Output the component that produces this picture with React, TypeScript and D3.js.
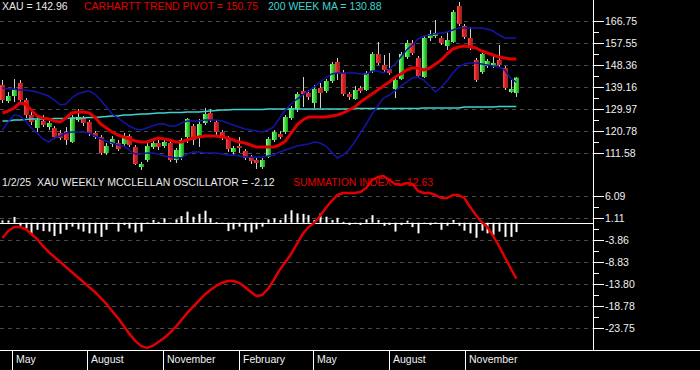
import React from "react";
import * as d3 from "d3";

// ---------- DATA (weekly, 2023-04-20 .. 2025-01-02) ----------
const firstWeek = "2023-04-20";
const lastWeek = "2025-01-02";

const open = [139.87, 133.18, 135.27, 140.71, 133.60, 127.33, 121.90, 124.82, 122.31, 121.90,
  119.81, 120.22, 116.04, 125.24, 126.08, 124.40, 119.81, 118.13, 111.45, 115.21,
  115.63, 115.21, 118.55, 113.95, 105.59, 108.52, 113.95, 115.63, 114.37, 115.63,
  108.52, 109.77, 118.13, 122.73, 117.72, 123.99, 128.17, 124.40, 120.22, 117.72,
  111.86, 114.37, 112.28, 109.77, 108.52, 105.59, 109.77, 116.88, 119.39, 120.22,
  126.08, 129.84, 137.36, 136.53, 132.35, 138.62, 137.36, 141.54, 149.48, 144.89,
  136.11, 134.02, 138.62, 137.78, 145.72, 152.83, 148.23, 146.56, 138.20, 142.38,
  151.57, 157.43, 151.16, 143.21, 159.52, 160.35, 159.52, 156.17, 157.84, 172.89,
  164.53, 159.52, 150.32, 145.30, 147.81, 147.81, 150.32, 146.98, 136.94, 136.53];

const close = [133.60, 135.27, 137.78, 133.60, 127.33, 124.40, 125.24, 123.15, 123.99, 118.13,
  117.72, 116.88, 126.08, 126.49, 123.99, 119.81, 118.13, 111.45, 114.37, 117.30,
  113.12, 118.55, 114.79, 106.85, 106.85, 114.37, 115.63, 113.95, 116.04, 108.52,
  112.70, 116.88, 125.66, 116.88, 123.57, 127.75, 125.24, 120.22, 117.72, 113.12,
  113.54, 113.54, 109.36, 108.10, 107.27, 108.52, 117.30, 120.22, 118.13, 126.49,
  130.26, 136.11, 136.11, 134.85, 138.20, 136.53, 141.54, 148.65, 144.47, 136.11,
  134.85, 137.78, 137.36, 144.89, 152.83, 149.07, 146.14, 144.89, 141.96, 152.83,
  157.43, 153.25, 143.63, 159.52, 161.19, 161.61, 157.43, 158.68, 170.38, 165.37,
  159.93, 155.75, 141.96, 152.83, 149.90, 149.07, 148.23, 138.62, 138.20, 142.96];

const high = [141.96, 136.94, 142.38, 141.96, 134.44, 129.42, 126.49, 127.33, 125.24, 122.73,
  121.06, 122.31, 127.33, 129.84, 126.91, 125.24, 120.64, 118.97, 115.63, 118.55,
  116.88, 119.81, 119.39, 114.79, 107.68, 115.63, 117.72, 116.88, 117.72, 116.46,
  113.54, 117.72, 126.08, 123.57, 125.66, 130.26, 129.84, 125.24, 121.06, 118.55,
  114.37, 118.13, 113.12, 110.61, 109.36, 109.36, 118.13, 121.06, 120.64, 127.33,
  131.09, 136.94, 143.21, 137.78, 139.87, 140.71, 142.38, 149.48, 151.16, 146.14,
  136.94, 139.45, 139.45, 145.72, 153.66, 157.84, 152.41, 153.25, 143.21, 153.66,
  158.68, 158.68, 151.99, 160.35, 162.86, 167.04, 160.35, 162.02, 171.22, 174.56,
  165.37, 164.11, 151.16, 153.66, 150.74, 152.41, 156.59, 147.81, 141.96, 143.21];

const low = [132.35, 132.35, 132.76, 131.93, 126.08, 123.15, 120.22, 122.31, 121.06, 117.30,
  116.88, 114.79, 115.63, 124.40, 122.73, 118.55, 117.30, 110.61, 110.61, 113.95,
  112.28, 114.37, 113.95, 106.43, 104.34, 107.68, 113.12, 112.70, 113.54, 107.68,
  107.27, 108.52, 115.63, 114.79, 113.95, 123.15, 124.40, 118.97, 116.88, 111.86,
  110.61, 111.45, 108.52, 106.85, 104.76, 104.76, 109.36, 116.04, 117.30, 119.39,
  125.24, 128.58, 130.67, 133.60, 130.26, 130.26, 136.53, 140.71, 141.96, 135.27,
  133.60, 133.60, 136.53, 137.36, 144.89, 148.23, 145.30, 144.05, 134.44, 141.96,
  150.74, 152.41, 142.80, 142.80, 158.26, 159.52, 156.59, 154.50, 157.43, 164.53,
  159.10, 154.50, 141.12, 144.47, 146.98, 146.98, 147.39, 137.78, 136.53, 134.85];

const trendPivot = [128.17, 129.00, 130.26, 132.35, 131.93, 129.42, 126.91, 126.08, 125.66, 124.82,
  124.40, 126.08, 128.17, 128.58, 128.58, 128.17, 126.49, 123.57, 121.90, 120.22,
  118.97, 118.13, 117.30, 116.46, 116.04, 116.04, 116.88, 117.72, 117.30, 116.88,
  116.04, 116.04, 116.88, 117.72, 118.13, 118.55, 118.55, 118.55, 118.13, 117.72,
  116.88, 116.04, 115.63, 114.79, 113.95, 113.95, 113.95, 113.95, 114.79, 116.46,
  119.81, 123.15, 125.24, 126.49, 126.49, 126.49, 126.49, 126.91, 127.33, 128.17,
  129.42, 130.67, 132.76, 134.44, 136.11, 137.78, 139.45, 141.12, 143.21, 144.47,
  146.14, 146.98, 146.98, 146.14, 146.98, 148.65, 150.32, 152.83, 154.92, 155.75,
  156.17, 155.75, 155.34, 154.08, 153.25, 152.41, 151.57, 151.16, 150.74, 150.75];

const upperBand = [138.62, 138.20, 138.20, 137.78, 137.78, 137.36, 136.94, 136.11, 135.27, 133.60,
  131.51, 131.93, 134.44, 136.11, 136.94, 137.36, 136.11, 133.60, 130.67, 127.75,
  126.08, 124.40, 122.73, 121.48, 121.06, 121.90, 122.73, 123.57, 123.57, 122.73,
  122.73, 123.99, 124.82, 124.82, 124.82, 125.24, 125.24, 125.24, 124.82, 123.99,
  123.15, 122.31, 121.48, 121.06, 120.64, 120.22, 121.06, 122.31, 126.08, 129.42,
  131.93, 134.02, 135.69, 137.36, 139.03, 141.12, 142.80, 144.47, 144.89, 144.89,
  144.89, 144.89, 144.47, 144.47, 145.72, 145.72, 144.89, 146.56, 148.65, 151.57,
  154.50, 156.59, 159.10, 160.35, 160.77, 161.19, 161.61, 162.02, 162.86, 163.70,
  163.70, 163.70, 163.70, 163.70, 163.28, 162.44, 160.77, 159.52, 159.52, 159.52];

const lowerBand = [121.06, 124.40, 127.33, 126.91, 124.82, 121.90, 119.81, 117.30, 116.04, 117.72,
  118.55, 119.81, 120.22, 120.22, 120.22, 119.81, 118.55, 117.30, 116.46, 115.63,
  114.79, 114.37, 112.70, 111.03, 111.03, 111.45, 111.45, 111.03, 110.19, 109.77,
  109.36, 109.36, 111.03, 111.86, 111.86, 111.45, 111.45, 111.45, 111.03, 110.61,
  110.61, 110.19, 109.77, 109.77, 109.77, 109.77, 110.19, 110.61, 111.86, 112.70,
  113.54, 114.37, 114.79, 115.21, 116.04, 115.63, 114.37, 111.86, 109.36, 110.61,
  112.70, 116.04, 119.81, 123.57, 127.75, 131.09, 134.44, 135.69, 137.36, 139.45,
  141.12, 142.80, 143.21, 141.96, 139.45, 136.94, 139.03, 141.54, 144.89, 147.39,
  148.65, 149.07, 149.07, 148.65, 148.23, 147.81, 147.39, 146.14, 142.80, 141.12];

const ma200 = [124.82, 124.82, 125.24, 125.24, 125.45, 125.66, 125.66, 125.66, 125.66, 125.87,
  125.87, 125.87, 126.08, 126.08, 126.08, 126.29, 126.29, 126.49, 126.70, 126.91,
  126.91, 127.33, 127.33, 127.54, 127.75, 127.75, 127.96, 128.17, 128.17, 128.38,
  128.38, 128.38, 128.58, 128.58, 128.58, 128.79, 129.00, 129.21, 129.42, 129.42,
  129.63, 129.63, 129.63, 129.63, 129.63, 129.63, 129.84, 129.84, 129.84, 129.84,
  129.84, 129.84, 129.84, 129.84, 129.84, 129.84, 129.84, 129.84, 129.84, 129.84,
  129.84, 130.05, 130.05, 130.05, 130.05, 130.05, 130.05, 130.05, 130.05, 130.05,
  130.05, 130.05, 130.05, 130.26, 130.26, 130.26, 130.26, 130.26, 130.26, 130.26,
  130.67, 130.67, 130.67, 130.67, 130.67, 130.67, 130.88, 130.88, 130.88, 130.88];

const oscillator = [0.5, 0.5, 1.3, -0.7, -1.3, -2.5, -1.6, -1.9, -2.0, -3.0,
  -2.5, -1.6, -0.9, -1.5, -2.0, -2.4, -2.4, -3.2, -1.6, -0.3,
  -2.0, -0.5, -1.3, -2.2, -2.0, 0.05, 0.6, 0.2, 1.0, -0.1,
  0.75, 1.5, 2.5, 1.35, 2.0, 2.7, 1.0, 0.1, -0.1, -1.9,
  -1.5, -0.9, -2.0, -2.2, -1.5, -0.9, 0.75, 1.0, 0.6, 1.9,
  2.8, 2.1, 2.0, 1.7, 0.6, 2.1, 1.35, 0.6, 1.1, 0.2,
  -0.5, -0.3, -0.5, 0.75, 1.7, 0.6, -0.7, -0.5, -2.0, -0.5,
  0.45, -1.0, -2.4, -0.2, -0.5, 0.05, -1.6, -0.7, 0.6, -0.7,
  -1.8, -2.4, -3.4, -1.8, -2.4, -2.8, -2.0, -3.2, -3.2, -2.12];

const summation = [-3.45, -1.87, -0.97, -0.97, -1.42, -2.55, -3.67, -5.25, -6.60, -7.73,
  -8.85, -9.98, -11.11, -12.24, -13.36, -14.49, -15.62, -16.97, -18.32, -19.90,
  -21.48, -23.28, -25.08, -26.66, -27.79, -28.24, -27.79, -26.89, -25.99, -24.86,
  -23.51, -21.93, -20.35, -19.00, -17.65, -16.29, -15.17, -14.27, -13.59, -13.14,
  -13.14, -13.59, -14.49, -15.62, -16.52, -16.29, -14.94, -12.91, -10.66, -8.85,
  -7.05, -4.80, -2.55, -0.97, -0.07, 1.51, 3.31, 4.89, 6.24, 6.69,
  6.69, 6.69, 6.92, 7.82, 9.63, 10.30, 10.53, 9.63, 8.72, 8.50,
  8.95, 8.72, 7.14, 6.69, 6.69, 6.24, 5.57, 5.57, 6.24, 6.24,
  5.57, 3.54, 1.74, 0.16, -0.97, -3.00, -5.25, -7.73, -10.21, -12.63];

const priceTicks = [166.75, 157.55, 148.36, 139.16, 129.97, 120.78, 111.58];
const oscTicks = [6.09, 1.11, -3.86, -8.83, -13.80, -18.78, -23.75];
const monthTicks = ["2023-05-01", "2023-08-01", "2023-11-01", "2024-02-01", "2024-05-01", "2024-08-01", "2024-11-01"];

// ---------- LAYOUT ----------
const W = 700;
const H = 370;
const AXIS_X = 593;
const FONT = "'Liberation Sans', Arial, Helvetica, sans-serif";
const RED = "#e00000";
const CYAN = "#3fd3d0";
const BLUE = "#1414a8";

const parse = d3.timeParse("%Y-%m-%d");

export default function App() {
  const dates = d3.timeThursday.range(parse(firstWeek)!, d3.timeDay.offset(parse(lastWeek)!, 1));
  const n = dates.length;

  const x = d3.scaleTime()
    .domain([parse("2023-04-17")!, parse("2025-04-05")!])
    .range([0, AXIS_X]);
  const yP = d3.scaleLinear().domain([111.58, 166.75]).range([152.7, 20.7]);
  const yO = d3.scaleLinear().domain([-23.75, 6.09]).range([328, 195.7]);

  const px = (i: number) => x(dates[i]);
  const lineP = d3.line<number>().x((_, i) => px(i)).y((v) => yP(v));
  const lineO = d3.line<number>().x((_, i) => px(i)).y((v) => yO(v));

  const priceMinor = d3.pairs(priceTicks).map(([a, b]) => (a + b) / 2);
  const oscMinor = d3.pairs(oscTicks).map(([a, b]) => (a + b) / 2);
  const monthFmt = d3.timeFormat("%B");
  const dateFmt = d3.timeFormat("%-m/%-d/%y");

  const bodyW = 4;
  const last = n - 1;
  const zeroY = Math.round(yO(0)) + 0.5;

  const textProps = { fontFamily: FONT, fontSize: 10.5, style: { whiteSpace: "pre" as const } };

  return (
    <div style={{ position: "absolute", left: 0, top: 0, width: W, height: H }}>
      <svg width={W} height={H} viewBox={`0 0 ${W} ${H}`} style={{ display: "block", background: "#000" }}>
        <defs>
          <linearGradient id="gUp" x1="0" x2="1" y1="0" y2="0">
            <stop offset="0" stopColor="#a8ffa8" />
            <stop offset="0.4" stopColor="#3fe03f" />
            <stop offset="1" stopColor="#139a13" />
          </linearGradient>
          <linearGradient id="gDn" x1="0" x2="1" y1="0" y2="0">
            <stop offset="0" stopColor="#ff5050" />
            <stop offset="0.45" stopColor="#dc1c1c" />
            <stop offset="1" stopColor="#8a2a2a" />
          </linearGradient>
        </defs>
        <rect x={0} y={0} width={W} height={H} fill="#000" />

        {/* grid lines */}
        {priceTicks.map((t) => (
          <line key={"gp" + t} x1={0} x2={AXIS_X} y1={Math.round(yP(t)) + 0.5} y2={Math.round(yP(t)) + 0.5}
            stroke="#4a4a4a" strokeDasharray="4,4" />
        ))}
        {oscTicks.map((t) => (
          <line key={"go" + t} x1={0} x2={AXIS_X} y1={Math.round(yO(t)) + 0.5} y2={Math.round(yO(t)) + 0.5}
            stroke="#4a4a4a" strokeDasharray="4,4" />
        ))}

        {/* header texts */}
        <text x={2} y={10} fill="#e8e8e8" {...textProps}>{`XAU = ${close[last].toFixed(2)}`}</text>
        <text x={84} y={10} fill={RED} {...textProps}>{`CARHARTT TREND PIVOT = ${trendPivot[last].toFixed(2)}`}</text>
        <text x={268} y={10} fill={CYAN} {...textProps}>{`200 WEEK MA = ${ma200[last].toFixed(2)}`}</text>

        {/* candles */}
        {dates.map((d, i) => {
          const cx = Math.round(px(i));
          const up = close[i] >= open[i];
          const top = yP(Math.max(open[i], close[i]));
          const bot = yP(Math.min(open[i], close[i]));
          return (
            <g key={"c" + i}>
              <line x1={cx + 0.5} x2={cx + 0.5} y1={yP(high[i])} y2={yP(low[i])} stroke="#d0d0d0" strokeWidth={1} />
              <rect x={cx - bodyW / 2} y={top} width={bodyW + 1} height={Math.max(1.5, bot - top)}
                fill={up ? "url(#gUp)" : "url(#gDn)"} />
            </g>
          );
        })}

        {/* overlays */}
        <path d={lineP(ma200) || ""} fill="none" stroke={CYAN} strokeWidth={1.5} />
        <path d={lineP(upperBand) || ""} fill="none" stroke={BLUE} strokeWidth={1.5} />
        <path d={lineP(lowerBand) || ""} fill="none" stroke={BLUE} strokeWidth={1.5} />
        <path d={lineP(trendPivot) || ""} fill="none" stroke={RED} strokeWidth={3} strokeLinejoin="round" />

        {/* oscillator pane */}
        <text x={2} y={185.5} fill="#e8e8e8" {...textProps}>
          {`${dateFmt(dates[last])}  XAU WEEKLY MCCLELLAN OSCILLATOR = ${oscillator[last].toFixed(2)}`}
        </text>
        <text x={293} y={185.5} fill={RED} {...textProps}>{`SUMMATION INDEX = ${summation[last].toFixed(2)}`}</text>

        {oscillator.map((v, i) => {
          const cx = Math.round(px(i));
          const y0 = yO(0);
          const y1 = yO(v);
          return (
            <rect key={"o" + i} x={cx - 0.5} y={Math.min(y0, y1)} width={2} height={Math.max(1, Math.abs(y1 - y0))} fill="#ffffff" />
          );
        })}
        <line x1={0} x2={AXIS_X} y1={zeroY} y2={zeroY} stroke="#ffffff" strokeWidth={1} />
        <path d={lineO(summation) || ""} fill="none" stroke={RED} strokeWidth={2.5} strokeLinejoin="round" />

        {/* right axis */}
        <line x1={AXIS_X + 0.5} x2={AXIS_X + 0.5} y1={0} y2={350} stroke="#fff" />
        {priceTicks.map((t) => {
          const y = Math.round(yP(t)) + 0.5;
          return (
            <g key={"tp" + t}>
              <line x1={AXIS_X} x2={AXIS_X + 11} y1={y} y2={y} stroke="#fff" />
              <text x={AXIS_X + 12} y={y} dy="0.35em" fill="#f0f0f0" {...textProps}>{t.toFixed(2)}</text>
            </g>
          );
        })}
        {priceMinor.map((t) => {
          const y = Math.round(yP(t)) + 0.5;
          return <line key={"mp" + t} x1={AXIS_X} x2={AXIS_X + 6} y1={y} y2={y} stroke="#fff" />;
        })}
        {oscTicks.map((t) => {
          const y = Math.round(yO(t)) + 0.5;
          return (
            <g key={"to" + t}>
              <line x1={AXIS_X} x2={AXIS_X + 11} y1={y} y2={y} stroke="#fff" />
              <text x={AXIS_X + 12} y={y} dy="0.35em" fill="#f0f0f0" {...textProps}>{t.toFixed(2)}</text>
            </g>
          );
        })}
        {oscMinor.map((t) => {
          const y = Math.round(yO(t)) + 0.5;
          return <line key={"mo" + t} x1={AXIS_X} x2={AXIS_X + 6} y1={y} y2={y} stroke="#fff" />;
        })}

        {/* bottom date axis */}
        <line x1={0} x2={W} y1={350.5} y2={350.5} stroke="#fff" />
        {monthTicks.map((s) => {
          const d = parse(s)!;
          const mx = Math.round(x(d)) + 0.5;
          return (
            <g key={"m" + s}>
              <line x1={mx} x2={mx} y1={350} y2={H} stroke="#fff" />
              <text x={mx + 3.5} y={363} fill="#f0f0f0" {...textProps}>{monthFmt(d)}</text>
            </g>
          );
        })}
      </svg>
    </div>
  );
}
